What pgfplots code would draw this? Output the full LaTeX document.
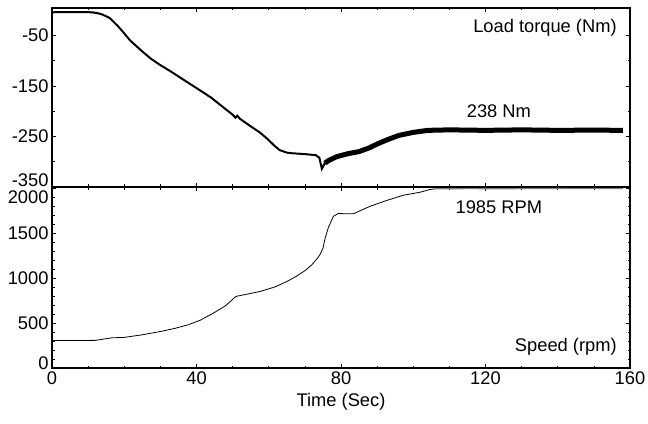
\documentclass[border=0pt]{standalone}
\usepackage{fontspec}
\setmainfont{Liberation Sans}
\usepackage{pgfplots}
\pgfplotsset{compat=1.18}

\pgfplotsset{
  panel/.style={
    scale only axis, width=578bp,
    xmin=0, xmax=160,
    xtick={0,40,...,160}, minor xtick={10,20,...,150},
    tick align=inside,
    major tick length=4bp, minor tick length=2.5bp,
    every tick/.style={black, line width=0.7bp},
    axis line style={line width=1.2bp},
    font=\fontsize{18.3bp}{21bp}\selectfont,
    /pgf/number format/assume math mode=true,
  },
}

\begin{document}
\begin{tikzpicture}[x=1bp,y=1bp]
\useasboundingbox (0,0) rectangle (648,423);

% top panel: load torque
\begin{axis}[panel,
  at={(52bp,236bp)}, anchor=south west, height=179bp,
  ymin=-350, ymax=4,
  ytick={-50,-150,-250,-350},
  yticklabels={-50,-150,-250,\raisebox{7bp}[\height][\depth]{-350}},
  minor ytick={-100,-200,-300},
  xticklabels={},
]
\addplot[black, line width=2bp] coordinates {
  (0,-4.5)(4,-4)(8,-4)(11,-4.5)(12.5,-6)(14,-9)(16,-16)(18,-30)(19.5,-42)
  (21.6,-60)(25,-82)(27.5,-97)(30,-109)(33,-122)(36,-136)(41,-159)
  (44,-173)(47,-190)(50,-207)(50.8,-213)(51.3,-209)(52,-215)(55,-230)
  (57.5,-242)(59.5,-254)(61.5,-268)(63,-277)(65,-282)(66,-283)
  (70,-285)(73,-287)(74,-292)(74.7,-314)(75.5,-303)
};
\addplot[black, line width=5bp] coordinates {
  (75.5,-303)(76.5,-298)(78.8,-290)(82,-284)(85,-280)(88,-272)
  (90,-265)(93,-256)(96,-248)(100,-242)(104,-238)(110,-237)
  (120,-238)(130,-237)(140,-238)(150,-237.5)(158,-238)
};
\draw[gray!70!black, line width=1.8bp] (rel axis cs:0,0) -- (rel axis cs:1,0);
\node[anchor=east] at (rel axis cs:0.983,0.888) {Load torque (Nm)};
\node at (axis cs:123.7,-200) {238 Nm};
\end{axis}

% bottom panel: speed
\begin{axis}[panel,
  at={(52bp,55bp)}, anchor=south west, height=181bp,
  ymin=0, ymax=2010,
  ytick={0,500,1000,1500,2000},
  yticklabels={\raisebox{5bp}[\height][\depth]{0},500,1000,1500,\raisebox{-9.5bp}[\height][\depth]{2000}},
  minor ytick={100,200,300,400,600,700,800,900,1100,1200,1300,1400,1600,1700,1800,1900},
  xticklabels={0,40,80,120,160},
  xlabel={Time (Sec)},
  xlabel style={yshift=-2bp},
]
\addplot[black, line width=0.8bp] coordinates {
  (0,305)(6,305)(12,307)(16.5,335)(20,340)(24.4,365)(30,405)(34,440)
  (37.7,480)(41,530)(44.7,610)(48,690)(50.9,795)(54,820)(57.6,850)
  (61.7,900)(65,960)(67.7,1020)(70,1080)(71.9,1145)(73.5,1220)(74.2,1260)
  (75,1330)(75.6,1440)(76.5,1560)(77.9,1685)(79.2,1715)(83.4,1712)
  (88,1795)(92.6,1860)(97.2,1918)(101.9,1952)(104.6,1982)(106,1990)
};
\addplot[gray, line width=1.2bp] coordinates {
  (106,1990)(115,1992)(125,1991)(135,1993)(145,1992)(158,1992)
};
\node[anchor=east] at (rel axis cs:0.983,0.117) {Speed (rpm)};
\node at (axis cs:123.7,1789) {1985 RPM};
\end{axis}
\end{tikzpicture}
\end{document}
